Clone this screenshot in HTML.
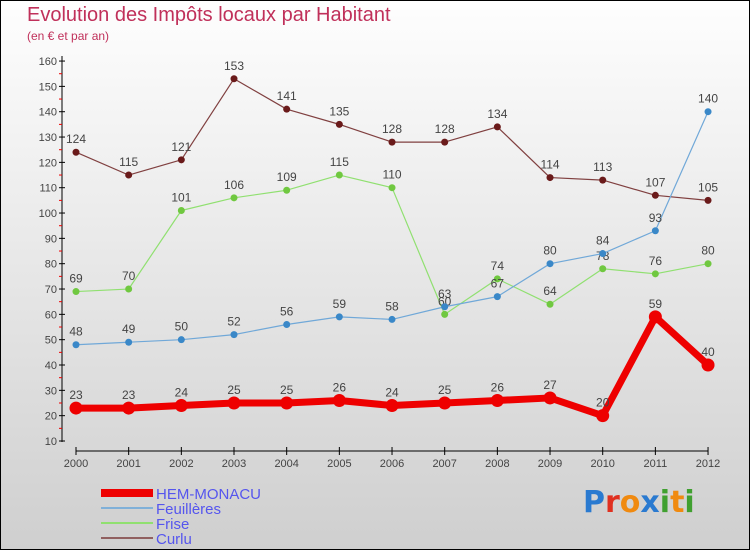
<!DOCTYPE html>
<html><head><meta charset="utf-8"><style>
body{margin:0}
#c{position:relative;width:748px;height:548px;border:1px solid #000;background:linear-gradient(#fefefe,#cfcfcf);font-family:"Liberation Sans",sans-serif;overflow:hidden}
.t{position:absolute;color:#c0305a}
</style></head><body>
<div id="c">
<div class="t" style="left:26px;top:3px;font-size:20px">Evolution des Impôts locaux par Habitant</div>
<div class="t" style="left:26px;top:28px;font-size:12px">(en € et par an)</div>
<svg id="s" width="748" height="548" style="position:absolute;left:0;top:0"></svg>
<div style="position:absolute;left:582px;top:484px;font-size:30px;font-weight:bold;font-family:'DejaVu Sans',sans-serif"><span style="color:#2a7ad0">P</span><span style="color:#e03020">r</span><span style="color:#f08a10">o</span><span style="color:#2a7ad0">x</span><span style="color:#40a030">i</span><span style="color:#f08a10">t</span><span style="color:#40a030">i</span></div>
</div>
<script>
const years=[2000,2001,2002,2003,2004,2005,2006,2007,2008,2009,2010,2011,2012];
const hem=[23,23,24,25,25,26,24,25,26,27,20,59,40];
const feu=[48,49,50,52,56,59,58,63,67,80,84,93,140];
const fri=[69,70,101,106,109,115,110,60,74,64,78,76,80];
const cur=[124,115,121,153,141,135,128,128,134,114,113,107,105];
const yTicks=[10,20,30,40,50,60,70,80,90,100,110,120,130,140,150,160];
const X=y=>75+(y-2000)*52.67, Y=v=>440-(v-10)*2.533;
const s=document.getElementById('s'),NS='http://www.w3.org/2000/svg';
function el(t,a,p){const e=document.createElementNS(NS,t);for(const k in a)e.setAttribute(k,a[k]);(p||s).appendChild(e);return e;}
let e=el('line',{x1:61,y1:55,x2:61,y2:441,stroke:'#000'});

e=el('line',{x1:75,y1:450,x2:707,y2:450,stroke:'#000'});

yTicks.forEach(v=>{el('line',{x1:58,y1:Y(v),x2:64,y2:Y(v),stroke:'#000'});
 if(v<160)el('line',{x1:58,y1:Y(v+5),x2:61,y2:Y(v+5),stroke:'#e00'});
 const t=el('text',{x:56,y:Y(v)+4,'text-anchor':'end','font-size':11,fill:'#444'});t.textContent=v;
 });
years.forEach(y=>{el('line',{x1:X(y),y1:446,x2:X(y),y2:454,stroke:'#000'});
 const t=el('text',{x:X(y),y:466,'text-anchor':'middle','font-size':11,fill:'#444'});t.textContent=y;
 });
function series(d,col,dot,w,r,name){
 const p=el('polyline',{points:d.map((v,i)=>X(years[i])+','+Y(v)).join(' '),fill:'none',stroke:col,'stroke-width':w,'stroke-linejoin':'round'});
 
 d.forEach((v,i)=>{const c=el('circle',{cx:X(years[i]),cy:Y(v),r:r,fill:dot});
  
  const t=el('text',{x:X(years[i]),y:Y(v)-9,'text-anchor':'middle','font-size':12,fill:'#444'});t.textContent=v;
  });
}
series(cur,'#804040','#6a1a1a',1.2,3.5,'curlu');
series(fri,'#90e070','#70c840',1.2,3.5,'frise');
series(feu,'#70a8d8','#3a88c8',1.2,3.5,'feuilleres');
series(hem,'#ee0000','#ee0000',7,6.5,'hem-monacu');
const leg=[['HEM-MONACU','#ee0000',8],['Feuillères','#80b0d8',2],['Frise','#90e070',2],['Curlu','#906060',2]];
leg.forEach((l,i)=>{const y=492+i*15;
 const a=el('line',{x1:100,y1:y,x2:152,y2:y,stroke:l[1],'stroke-width':l[2]});
 
 const t=el('text',{x:155,y:y+6,'font-size':15,fill:'#5555ee'});t.textContent=l[0];
 });
</script>
</body></html>
